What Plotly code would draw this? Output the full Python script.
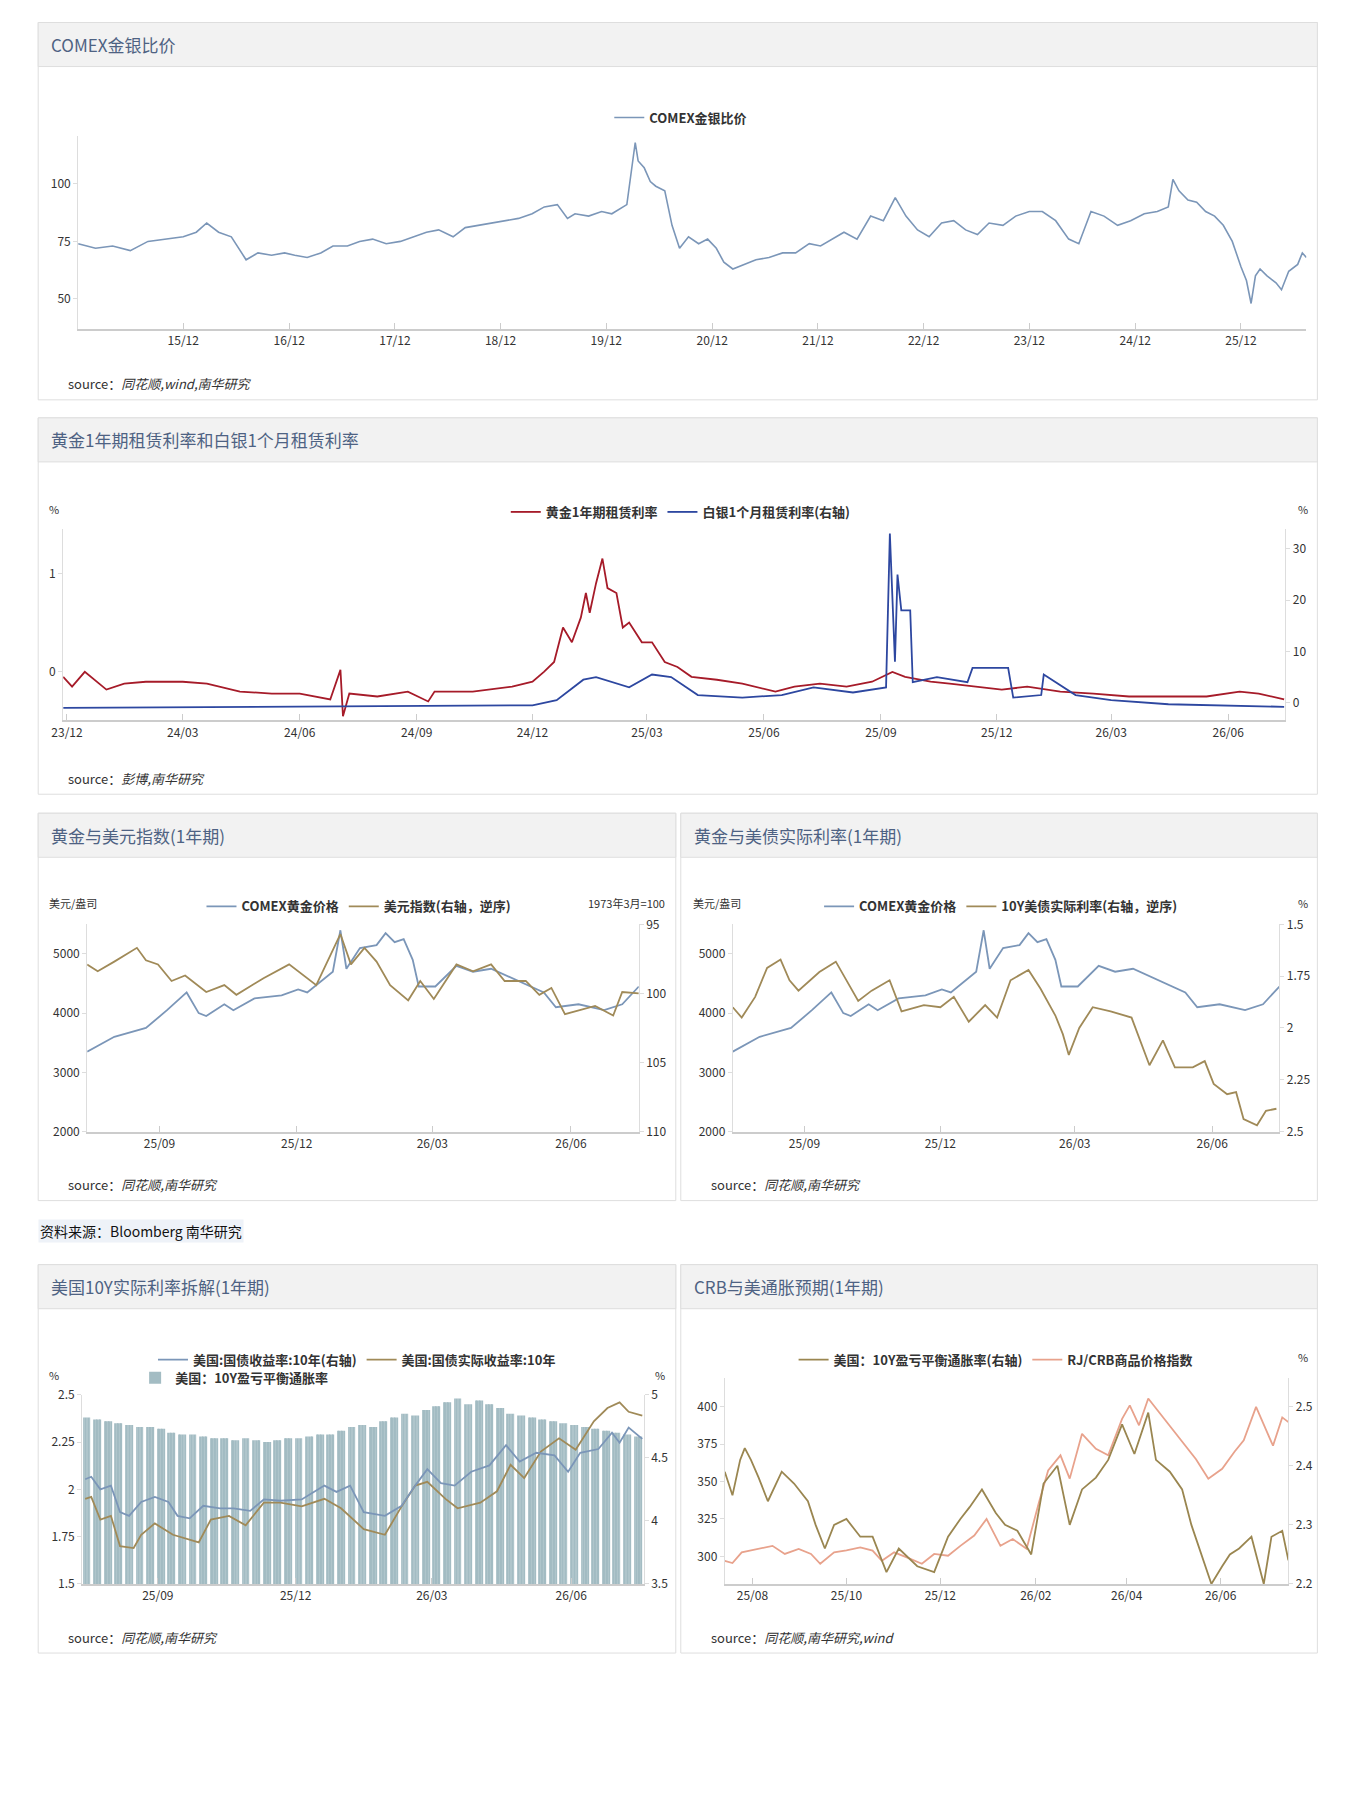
import plotly.graph_objects as go
import pandas as pd

W, H = 1360, 1814
# ---------------- data ----------------
gs_dates = ["2014-12-03","2015-02-01","2015-04-01","2015-06-01","2015-08-01","2015-10-01","2015-12-01","2016-01-15","2016-02-20","2016-04-01","2016-05-15","2016-07-05","2016-08-15","2016-10-01","2016-11-15","2016-12-20","2017-02-01","2017-03-20","2017-05-01","2017-06-20","2017-08-01","2017-09-15","2017-11-01","2017-12-20","2018-02-01","2018-03-20","2018-05-01","2018-06-20","2018-08-01","2018-09-15","2018-11-01","2018-12-20","2019-02-01","2019-03-20","2019-05-01","2019-06-15","2019-07-20","2019-08-15","2019-10-01","2019-11-15","2019-12-20","2020-02-10","2020-03-10","2020-03-20","2020-04-10","2020-05-01","2020-05-20","2020-06-20","2020-07-15","2020-08-10","2020-09-10","2020-10-15","2020-11-15","2020-12-15","2021-01-10","2021-02-10","2021-03-20","2021-05-01","2021-06-15","2021-08-01","2021-09-15","2021-11-01","2021-12-10","2022-01-20","2022-03-01","2022-04-15","2022-06-01","2022-07-15","2022-08-25","2022-10-01","2022-11-10","2022-12-20","2023-02-01","2023-03-15","2023-04-25","2023-06-05","2023-07-15","2023-09-01","2023-10-15","2023-12-01","2024-01-15","2024-03-01","2024-04-15","2024-05-20","2024-07-01","2024-08-15","2024-10-01","2024-11-15","2025-01-01","2025-02-15","2025-03-25","2025-04-10","2025-05-01","2025-06-01","2025-07-01","2025-08-01","2025-09-01","2025-10-01","2025-11-01","2025-12-01","2025-12-20","2026-01-05","2026-01-20","2026-02-05","2026-03-01","2026-04-01","2026-04-20","2026-05-15","2026-06-15","2026-07-01","2026-07-15"]
gs_ratio = [74,72,73,71,75,76,77,79,83,79,77,67,70,69,70,69,68,70,73,73,75,76,74,75,77,79,80,77,81,82,83,84,85,87,90,91,85,87,86,88,87,91,118,110,107,101,99,97,82,72,77,74,76,72,66,63,65,67,68,70,70,74,73,76,79,76,86,84,94,86,80,77,83,84,80,78,83,82,86,88,88,84,76,74,88,86,82,84,87,88,90,102,97,93,92,88,86,82,75,64,58,48,60,63,60,57,54,62,65,70,68]

lease_dates = ["2023-11-28","2023-12-05","2023-12-15","2024-01-01","2024-01-15","2024-02-01","2024-03-01","2024-03-20","2024-04-15","2024-05-10","2024-06-01","2024-06-25","2024-07-03","2024-07-05","2024-07-10","2024-08-01","2024-08-25","2024-09-10","2024-09-15","2024-10-15","2024-11-15","2024-12-01","2024-12-10","2024-12-18","2024-12-25","2025-01-01","2025-01-08","2025-01-12","2025-01-15","2025-01-20","2025-01-25","2025-01-29","2025-02-05","2025-02-10","2025-02-15","2025-02-25","2025-03-05","2025-03-15","2025-03-25","2025-04-05","2025-04-25","2025-05-15","2025-06-10","2025-06-25","2025-07-15","2025-08-05","2025-08-25","2025-09-10","2025-09-20","2025-10-10","2025-10-25","2025-11-15","2025-12-05","2025-12-25","2026-01-20","2026-02-15","2026-03-15","2026-04-15","2026-05-15","2026-06-10","2026-06-25","2026-07-15"]
gold_lease = [-0.05,-0.15,0.0,-0.18,-0.12,-0.1,-0.1,-0.12,-0.2,-0.22,-0.22,-0.28,0.02,-0.45,-0.22,-0.25,-0.2,-0.3,-0.2,-0.2,-0.15,-0.1,0.0,0.1,0.45,0.3,0.55,0.8,0.6,0.9,1.15,0.85,0.8,0.45,0.5,0.3,0.3,0.1,0.05,-0.05,-0.08,-0.12,-0.2,-0.15,-0.12,-0.15,-0.1,0.0,-0.05,-0.1,-0.12,-0.15,-0.18,-0.15,-0.2,-0.22,-0.25,-0.25,-0.25,-0.2,-0.22,-0.28]
silver_dates = ["2023-11-28","2024-06-01","2024-12-01","2024-12-20","2025-01-10","2025-01-20","2025-02-15","2025-03-05","2025-03-20","2025-04-10","2025-05-15","2025-06-15","2025-07-10","2025-08-10","2025-09-05","2025-09-08","2025-09-12","2025-09-14","2025-09-17","2025-09-24","2025-09-26","2025-10-15","2025-11-08","2025-11-12","2025-12-10","2025-12-14","2026-01-05","2026-01-07","2026-02-01","2026-03-01","2026-04-15","2026-07-15"]
silver_lease = [-1.0,-0.8,-0.5,0.5,4.5,5,3,5.5,5,1.5,1,1.5,3,2,3,33,8,25,18,18,4,5,4,6.8,6.8,1,1.5,5.5,1.5,0.5,-0.3,-0.8]

g_dates = ["2025-07-15","2025-08-02","2025-08-23","2025-09-06","2025-09-19","2025-09-27","2025-10-02","2025-10-14","2025-10-20","2025-11-03","2025-11-21","2025-12-02","2025-12-08","2025-12-25","2025-12-30","2026-01-03","2026-01-12","2026-01-23","2026-01-29","2026-02-04","2026-02-10","2026-02-16","2026-02-20","2026-03-03","2026-03-17","2026-03-28","2026-04-09","2026-04-26","2026-05-14","2026-05-22","2026-06-06","2026-06-23","2026-07-05","2026-07-16"]
gold_px = [3350,3600,3750,4050,4350,4000,3950,4150,4050,4250,4300,4400,4350,4700,5400,4750,5100,5150,5350,5200,5250,4900,4450,4450,4800,4700,4750,4550,4350,4100,4150,4050,4150,4450]
dxy_dates = ["2025-07-15","2025-07-22","2025-08-02","2025-08-17","2025-08-23","2025-08-31","2025-09-09","2025-09-18","2025-10-02","2025-10-14","2025-10-22","2025-11-09","2025-11-26","2025-12-14","2025-12-30","2026-01-06","2026-01-15","2026-01-23","2026-02-01","2026-02-13","2026-02-21","2026-03-02","2026-03-17","2026-03-28","2026-04-09","2026-04-18","2026-05-02","2026-05-11","2026-05-19","2026-05-28","2026-06-17","2026-06-29","2026-07-05","2026-07-16"]
dxy = [97.9,98.4,97.7,96.7,97.6,97.9,99.1,98.7,99.9,99.4,100.1,98.9,97.9,99.4,95.7,97.9,96.7,97.7,99.4,100.5,99.1,100.4,97.9,98.4,97.9,99.1,99.1,100.1,99.6,101.5,100.9,101.6,99.9,100.0]
rr_dates = ["2025-07-15","2025-07-21","2025-07-30","2025-08-07","2025-08-16","2025-08-22","2025-08-28","2025-09-11","2025-09-22","2025-09-29","2025-10-07","2025-10-16","2025-10-28","2025-11-05","2025-11-20","2025-12-01","2025-12-10","2025-12-20","2025-12-31","2026-01-08","2026-01-17","2026-01-29","2026-02-06","2026-02-16","2026-02-21","2026-02-25","2026-03-04","2026-03-13","2026-03-25","2026-04-08","2026-04-20","2026-04-29","2026-05-07","2026-05-19","2026-05-27","2026-06-02","2026-06-11","2026-06-17","2026-06-22","2026-07-01","2026-07-07","2026-07-14"]
real_rate = [1.90,1.95,1.85,1.71,1.67,1.77,1.82,1.73,1.68,1.77,1.87,1.82,1.77,1.92,1.89,1.90,1.85,1.97,1.89,1.95,1.77,1.72,1.81,1.94,2.03,2.13,2.00,1.90,1.92,1.95,2.18,2.06,2.19,2.19,2.16,2.27,2.32,2.31,2.44,2.47,2.40,2.39]

nom_dates = ["2025-07-15","2025-07-19","2025-07-25","2025-08-01","2025-08-07","2025-08-13","2025-08-21","2025-08-30","2025-09-08","2025-09-14","2025-09-22","2025-10-01","2025-10-12","2025-10-21","2025-11-01","2025-11-10","2025-11-21","2025-12-05","2025-12-20","2025-12-28","2026-01-06","2026-01-15","2026-01-29","2026-02-09","2026-02-18","2026-02-26","2026-03-07","2026-03-16","2026-03-27","2026-04-08","2026-04-19","2026-04-28","2026-05-09","2026-05-21","2026-05-30","2026-06-07","2026-06-19","2026-06-28","2026-07-03","2026-07-09","2026-07-18"]
nominal_10y = [4.33,4.35,4.25,4.28,4.07,4.04,4.15,4.19,4.15,4.04,4.02,4.12,4.10,4.10,4.08,4.17,4.16,4.17,4.28,4.23,4.28,4.07,4.04,4.12,4.28,4.41,4.30,4.28,4.39,4.44,4.60,4.47,4.54,4.52,4.39,4.54,4.57,4.70,4.62,4.74,4.65]
real_dates5 = ["2025-07-15","2025-07-19","2025-07-25","2025-08-01","2025-08-07","2025-08-16","2025-08-21","2025-08-30","2025-09-11","2025-09-19","2025-09-28","2025-10-06","2025-10-18","2025-10-29","2025-11-10","2025-11-21","2025-12-05","2025-12-20","2025-12-31","2026-01-15","2026-01-29","2026-02-09","2026-02-18","2026-02-26","2026-03-10","2026-03-18","2026-04-02","2026-04-13","2026-04-22","2026-05-01","2026-05-12","2026-05-24","2026-06-04","2026-06-16","2026-06-25","2026-07-03","2026-07-09","2026-07-18"]
real_10y = [1.95,1.96,1.84,1.86,1.70,1.69,1.76,1.82,1.76,1.74,1.72,1.84,1.86,1.81,1.93,1.93,1.91,1.95,1.90,1.79,1.76,1.91,2.02,2.04,1.95,1.90,1.93,1.99,2.13,2.06,2.20,2.27,2.21,2.36,2.43,2.46,2.41,2.39]
be_week_start = "2025-07-14"
breakeven_weekly = [2.38,2.37,2.36,2.35,2.34,2.33,2.33,2.32,2.30,2.29,2.29,2.28,2.27,2.27,2.26,2.27,2.26,2.25,2.26,2.27,2.27,2.28,2.29,2.29,2.31,2.33,2.34,2.33,2.36,2.38,2.40,2.39,2.42,2.44,2.46,2.48,2.45,2.47,2.45,2.43,2.40,2.39,2.38,2.37,2.36,2.35,2.34,2.33,2.32,2.31,2.30,2.29,2.28]

crb_dates = ["2025-07-14","2025-07-19","2025-07-25","2025-08-05","2025-08-14","2025-08-22","2025-08-31","2025-09-08","2025-09-14","2025-09-23","2025-10-01","2025-10-10","2025-10-18","2025-10-24","2025-11-01","2025-11-10","2025-11-19","2025-11-27","2025-12-06","2025-12-14","2025-12-23","2025-12-31","2026-01-09","2026-01-17","2026-01-26","2026-02-03","2026-02-09","2026-02-17","2026-02-23","2026-03-03","2026-03-12","2026-03-20","2026-03-29","2026-04-03","2026-04-09","2026-04-15","2026-04-20","2026-04-29","2026-05-07","2026-05-16","2026-05-24","2026-06-02","2026-06-10","2026-06-16","2026-06-24","2026-06-30","2026-07-05","2026-07-11","2026-07-15"]
crb = [297,295.5,302.7,305,307,301.6,305,301.6,295,302.7,304,306,303.8,297,302.7,299,295,301.6,300.4,307,313.9,325,307,311.6,305,336,357.5,367.6,352,382,372,367.6,392,401,387.7,405.6,399,387.7,376.5,365,352,358.6,370,377.6,400,385.5,374,393,389.8]
bei_dates = ["2025-07-14","2025-07-19","2025-07-24","2025-07-27","2025-07-31","2025-08-05","2025-08-11","2025-08-20","2025-08-28","2025-09-06","2025-09-11","2025-09-17","2025-09-23","2025-10-01","2025-10-10","2025-10-18","2025-10-27","2025-11-04","2025-11-16","2025-11-27","2025-12-06","2025-12-14","2025-12-20","2025-12-28","2026-01-06","2026-01-12","2026-01-20","2026-01-29","2026-02-06","2026-02-15","2026-02-23","2026-03-03","2026-03-12","2026-03-20","2026-03-29","2026-04-06","2026-04-15","2026-04-20","2026-04-29","2026-05-07","2026-05-13","2026-05-21","2026-05-26","2026-06-02","2026-06-07","2026-06-13","2026-06-21","2026-06-29","2026-07-04","2026-07-11","2026-07-15"]
bei = [2.39,2.35,2.41,2.43,2.41,2.38,2.34,2.39,2.37,2.34,2.30,2.26,2.30,2.31,2.28,2.28,2.22,2.26,2.23,2.22,2.28,2.31,2.33,2.36,2.32,2.30,2.29,2.25,2.37,2.40,2.30,2.36,2.38,2.41,2.47,2.42,2.49,2.41,2.39,2.36,2.30,2.24,2.20,2.23,2.25,2.26,2.28,2.20,2.28,2.29,2.24]

# ---------------- helpers ----------------
def px(x): return ((x - 18.8) / 0.9918) / W
def py(y): return 1 - ((y - 17.5) / 0.9897) / H

fig = go.Figure()
shapes, annos = [], []
TITLE_C = "#4e6283"
FONT = "Noto Sans CJK SC"

def panel(x0, x1, y0, y1, title, source_html):
    shapes.append(dict(type="rect", xref="paper", yref="paper", x0=px(x0), x1=px(x1), y0=py(y1), y1=py(y0),
                       line=dict(color="#dedede", width=1), fillcolor="white", layer="below"))
    shapes.append(dict(type="rect", xref="paper", yref="paper", x0=px(x0), x1=px(x1), y0=py(y0 + 44), y1=py(y0),
                       line=dict(color="#dedede", width=1), fillcolor="#f2f2f2", layer="below"))
    annos.append(dict(xref="paper", yref="paper", x=px(x0 + 11), y=py(y0 + 22), text=title, showarrow=False,
                      xanchor="left", yanchor="middle", font=dict(size=17, color=TITLE_C)))
    annos.append(dict(xref="paper", yref="paper", x=px(x0 + 28), y=py(y1 - 16), text=source_html, showarrow=False,
                      xanchor="left", yanchor="middle", font=dict(size=13, color="#333")))

def txt(x, y, t, anchor="left", size=11):
    annos.append(dict(xref="paper", yref="paper", x=px(x), y=py(y), text=t, showarrow=False,
                      xanchor=anchor, yanchor="middle", font=dict(size=size, color="#333")))

axis_font = dict(size=12, color="#333")
def xax(name, anchor, x0, x1, rng, tickvals):
    fig.layout[name] = dict(domain=[px(x0), px(x1)], anchor=anchor, range=rng, type="date", tickvals=tickvals,
                            tickformat="%y/%m", showgrid=False, showline=True, linecolor="#ccc", linewidth=2,
                            ticks="inside", ticklen=6, tickcolor="#ccc", tickfont=axis_font, zeroline=False)

def yax(name, anchor_x, y0, y1, rng, tickvals, side="left", overlay=None):
    d = dict(domain=[py(y1), py(y0)], anchor=anchor_x, range=rng, tickvals=tickvals, side=side,
             showgrid=False, showline=True, linecolor="#ddd", linewidth=1, ticks="outside", ticklen=4,
             tickcolor="#ddd", tickfont=axis_font, zeroline=False)
    if overlay: d["overlaying"] = overlay
    fig.layout[name] = d

def legend(name, x, y, xanchor="center"):
    fig.layout[name] = dict(x=px(x), y=py(y), xanchor=xanchor, yanchor="middle", orientation="h",
                            font=dict(size=13, color="#333", family=FONT), bgcolor="rgba(0,0,0,0)",
                            itemwidth=30, tracegroupgap=0)

src = lambda s: "source：<i>" + s + "</i>"
b = lambda s: "<b>" + s + "</b>"

# ---- Panel 1 ----
panel(37, 1317, 22, 399, "COMEX金银比价", src("同花顺,wind,南华研究"))
xax("xaxis", "y", 77, 1306, ["2014-12-03", "2026-07-15"], [f"20{y}-12-01" for y in range(15, 26)])
yax("yaxis", "x", 135, 328, [37, 121], [50, 75, 100])
fig.add_trace(go.Scatter(x=gs_dates, y=gs_ratio, mode="lines", name=b("COMEX金银比价"), line=dict(color="#7b96b8", width=1.6),
                         xaxis="x", yaxis="y", legend="legend"))
legend("legend", 680, 117)

# ---- Panel 2 ----
panel(37, 1317, 417, 793, "黄金1年期租赁利率和白银1个月租赁利率", src("彭博,南华研究"))
xax("xaxis2", "y2", 62, 1285, ["2023-11-28", "2026-07-16"],
    ["2023-12-01","2024-03-01","2024-06-01","2024-09-01","2024-12-01","2025-03-01","2025-06-01","2025-09-01","2025-12-01","2026-03-01","2026-06-01"])
yax("yaxis2", "x2", 528, 719, [-0.49, 1.45], [0, 1])
yax("yaxis3", "x2", 528, 719, [-3.4, 33.9], [0, 10, 20, 30], side="right", overlay="y2")
fig.add_trace(go.Scatter(x=lease_dates, y=gold_lease, mode="lines", name=b("黄金1年期租赁利率"), line=dict(color="#a61b29", width=1.8),
                         xaxis="x2", yaxis="y2", legend="legend2"))
fig.add_trace(go.Scatter(x=silver_dates, y=silver_lease, mode="lines", name=b("白银1个月租赁利率(右轴)"), line=dict(color="#2d47a0", width=1.8),
                         xaxis="x2", yaxis="y3", legend="legend2"))
legend("legend2", 680, 511)
txt(46, 508, "%"); txt(1310, 508, "%", "right")

# ---- Panel 3 ----
panel(37, 675, 812, 1199, "黄金与美元指数(1年期)", src("同花顺,南华研究"))
q_ticks = ["2025-09-01", "2025-12-01", "2026-03-01", "2026-06-01"]
xax("xaxis3", "y4", 86, 638, ["2025-07-15", "2026-07-16"], q_ticks)
yax("yaxis4", "x3", 923, 1130, [2000, 5500], [2000, 3000, 4000, 5000])
yax("yaxis5", "x3", 923, 1130, [110, 95], [95, 100, 105, 110], side="right", overlay="y4")
fig.add_trace(go.Scatter(x=g_dates, y=gold_px, mode="lines", name=b("COMEX黄金价格"), line=dict(color="#7b96b8", width=1.8),
                         xaxis="x3", yaxis="y4", legend="legend3"))
fig.add_trace(go.Scatter(x=dxy_dates, y=dxy, mode="lines", name=b("美元指数(右轴，逆序)"), line=dict(color="#a08a58", width=1.8),
                         xaxis="x3", yaxis="y5", legend="legend3"))
legend("legend3", 358, 905)
txt(46, 902, "美元/盎司"); txt(666, 902, "1973年3月=100", "right")

# ---- Panel 4 ----
panel(680, 1317, 812, 1199, "黄金与美债实际利率(1年期)", src("同花顺,南华研究"))
xax("xaxis4", "y6", 732, 1279, ["2025-07-15", "2026-07-16"], q_ticks)
yax("yaxis6", "x4", 923, 1130, [2000, 5500], [2000, 3000, 4000, 5000])
yax("yaxis7", "x4", 923, 1130, [2.5, 1.5], [1.5, 1.75, 2, 2.25, 2.5], side="right", overlay="y6")
fig.add_trace(go.Scatter(x=g_dates, y=gold_px, mode="lines", name=b("COMEX黄金价格"), line=dict(color="#7b96b8", width=1.8),
                         xaxis="x4", yaxis="y6", legend="legend4"))
fig.add_trace(go.Scatter(x=rr_dates, y=real_rate, mode="lines", name=b("10Y美债实际利率(右轴，逆序)"), line=dict(color="#a08a58", width=1.8),
                         xaxis="x4", yaxis="y7", legend="legend4"))
legend("legend4", 1000, 905)
txt(690, 902, "美元/盎司"); txt(1310, 902, "%", "right")

annos.append(dict(xref="paper", yref="paper", x=px(37), y=py(1229), text="资料来源：Bloomberg 南华研究", showarrow=False,
                  xanchor="left", yanchor="middle", font=dict(size=14, color="#111"), bgcolor="#eef2f8"))

# ---- Panel 5 ----
panel(37, 675, 1263, 1651, "美国10Y实际利率拆解(1年期)", src("同花顺,南华研究"))
xax("xaxis5", "y8", 81, 643, ["2025-07-13", "2026-07-19"], q_ticks)
yax("yaxis8", "x5", 1393, 1582, [1.5, 2.5], [1.5, 1.75, 2, 2.25, 2.5])
yax("yaxis9", "x5", 1393, 1582, [3.5, 5], [3.5, 4, 4.5, 5], side="right", overlay="y8")
bdays = pd.bdate_range(be_week_start, periods=len(breakeven_weekly) * 5)
be_daily = [breakeven_weekly[i // 5] for i in range(len(bdays))]
fig.add_trace(go.Bar(x=bdays, y=be_daily, name=b("美国：10Y盈亏平衡通胀率"), marker=dict(color="#a3bcc3", line=dict(width=0)),
                     xaxis="x5", yaxis="y8", legend="legend6"))
fig.add_trace(go.Scatter(x=nom_dates, y=nominal_10y, mode="lines", name=b("美国:国债收益率:10年(右轴)"), line=dict(color="#7b96b8", width=1.8),
                         xaxis="x5", yaxis="y9", legend="legend5"))
fig.add_trace(go.Scatter(x=real_dates5, y=real_10y, mode="lines", name=b("美国:国债实际收益率:10年"), line=dict(color="#a08a58", width=1.8),
                         xaxis="x5", yaxis="y8", legend="legend5"))
legend("legend5", 356, 1358)
legend("legend6", 134, 1376, "left")
txt(46, 1373, "%"); txt(666, 1373, "%", "right")

# ---- Panel 6 ----
panel(680, 1317, 1263, 1651, "CRB与美通胀预期(1年期)", src("同花顺,南华研究,wind"))
xax("xaxis6", "y10", 724, 1288, ["2025-07-14", "2026-07-15"],
    ["2025-08-01","2025-10-01","2025-12-01","2026-02-01","2026-04-01","2026-06-01"])
yax("yaxis10", "x6", 1376, 1582, [281.5, 419.5], [300, 325, 350, 375, 400])
yax("yaxis11", "x6", 1376, 1582, [2.2, 2.549], [2.2, 2.3, 2.4, 2.5], side="right", overlay="y10")
fig.add_trace(go.Scatter(x=bei_dates, y=bei, mode="lines", name=b("美国：10Y盈亏平衡通胀率(右轴)"), line=dict(color="#9a8650", width=1.8),
                         xaxis="x6", yaxis="y11", legend="legend7"))
fig.add_trace(go.Scatter(x=crb_dates, y=crb, mode="lines", name=b("RJ/CRB商品价格指数"), line=dict(color="#e8a28c", width=1.8),
                         xaxis="x6", yaxis="y10", legend="legend7"))
legend("legend7", 995, 1358)
txt(1310, 1355, "%", "right")

fig.update_layout(width=W, height=H, margin=dict(l=0, r=0, t=0, b=0), paper_bgcolor="white", plot_bgcolor="rgba(0,0,0,0)",
                  shapes=shapes, annotations=annos, font=dict(family=FONT, color="#333"), bargap=0.45, showlegend=True)
fig.write_html("out.html")
